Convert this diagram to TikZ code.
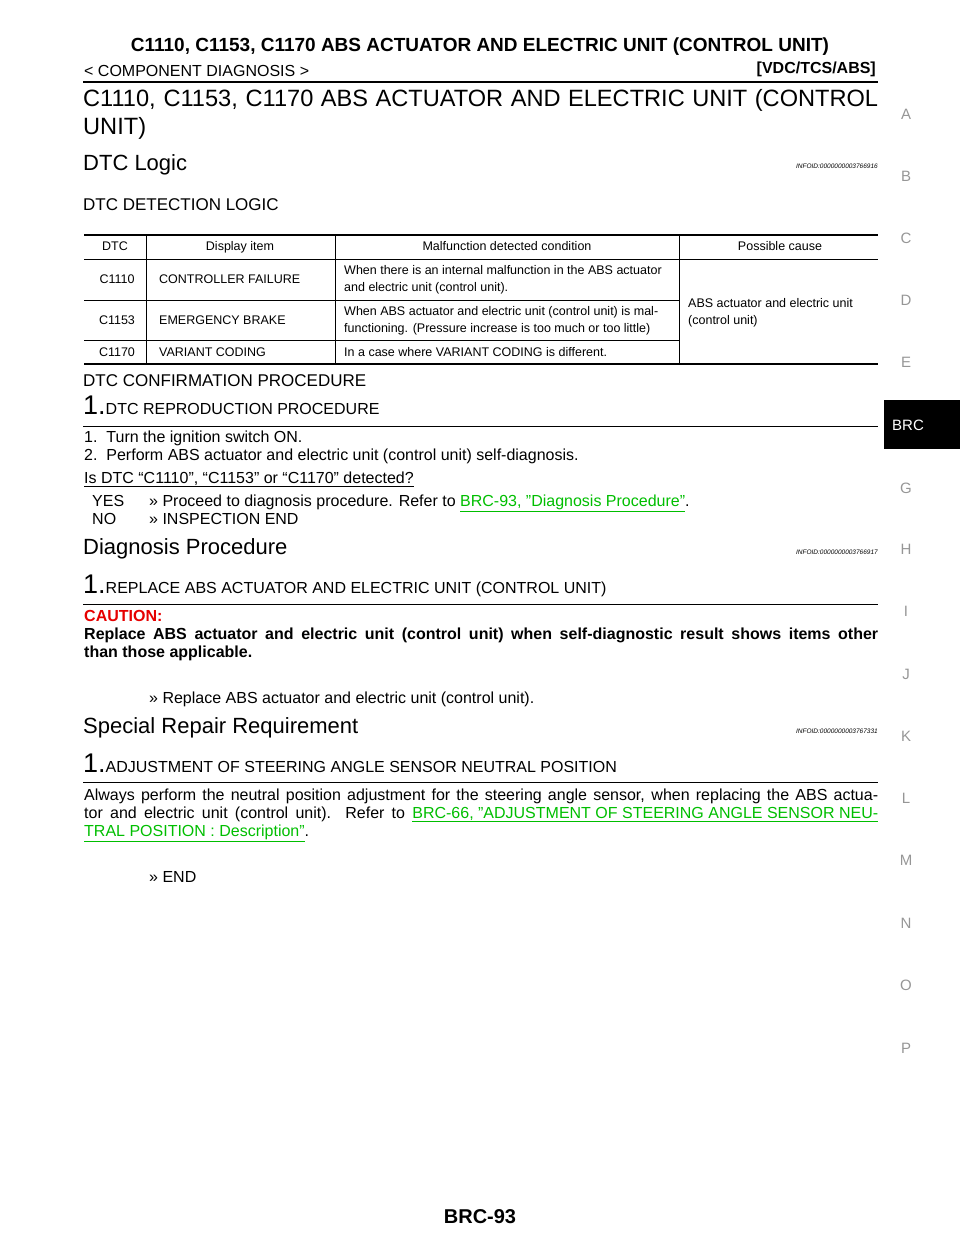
\documentclass[tikz,border=0pt]{standalone}
\usepackage{fontspec}
\setmainfont{Liberation Sans}[Ligatures=ResetAll]
\usepackage{tikz}
\definecolor{linkgreen}{RGB}{0,190,0}
\definecolor{cautionred}{RGB}{230,0,0}
\definecolor{sidegray}{RGB}{150,150,150}
\newcommand{\lnk}[1]{\textcolor{linkgreen}{\underline{#1}}}
\newcommand{\fullline}[1]{\makebox[794pt][s]{#1}}
\tikzset{
  txt/.style={anchor=base west,inner sep=0pt,font=\fontsize{16}{18}\selectfont},
  small/.style={anchor=base west,inner sep=0pt,font=\fontsize{12.5}{16}\selectfont},
  cell/.style={anchor=base,inner sep=0pt,font=\fontsize{12.5}{16}\selectfont},
  sect/.style={anchor=base west,inner sep=0pt,font=\fontsize{22}{24}\selectfont},
  step1/.style={anchor=base west,inner sep=0pt,font=\fontsize{16}{18}\selectfont},
  infoid/.style={anchor=base east,inner sep=0pt,font=\fontsize{6.5}{8}\selectfont\itshape},
  side/.style={anchor=base,inner sep=0pt,text=sidegray,font=\fontsize{15}{16}\selectfont},
  rule/.style={line width=1pt},
  thick rule/.style={line width=2.2pt}
}
\begin{document}
\begin{tikzpicture}[x=1pt,y=-1pt]
\useasboundingbox (0,0) rectangle (960,1242);

% page header
\node[anchor=base,inner sep=0pt,font=\fontsize{19}{20}\selectfont\bfseries] (hdr) at (480,51) {C1110, C1153, C1170 ABS ACTUATOR AND ELECTRIC UNIT (CONTROL UNIT)};
\node[txt] (comp) at (84,76) {< COMPONENT DIAGNOSIS >};
\node[anchor=base east,inner sep=0pt,font=\fontsize{16}{18}\selectfont\bfseries] (sys) at (876,73) {[VDC/TCS/ABS]};
\draw[thick rule] (83,82) -- (878,82);

% title
\node[sect,font=\fontsize{23.6}{26}\selectfont] (title1) at (83,106) {\makebox[795pt][s]{C1110, C1153, C1170 ABS ACTUATOR AND ELECTRIC UNIT (CONTROL}};
\node[sect,font=\fontsize{23.6}{26}\selectfont] (title2) at (83,134) {UNIT)};

% DTC logic
\node[sect] (dtclogic) at (83,170) {DTC Logic};
\node[infoid] (id1) at (878,168) {INFOID:0000000003766916};
\node[txt,font=\fontsize{17}{18}\selectfont] (detlogic) at (83,210) {DTC DETECTION LOGIC};

% table
\draw[thick rule] (84,235) -- (878,235);
\draw[rule] (84,259) -- (878,259);
\draw[rule] (84,300) -- (679,300);
\draw[rule] (84,340) -- (679,340);
\draw[thick rule] (84,364) -- (878,364);
\foreach \cx in {146,335,679} \draw[line width=0.5pt] (\cx,235) -- (\cx,364);
\node[cell] (h1) at (115,250) {DTC};
\node[cell] (h2) at (240,250) {Display item};
\node[cell] (h3) at (507,250) {Malfunction detected condition};
\node[cell] (h4) at (780,250) {Possible cause};
\node[cell] (c11) at (117,283) {C1110};
\node[small] (c12) at (159,283) {CONTROLLER FAILURE};
\node[small] (c13a) at (344,274) {When there is an internal malfunction in the ABS actuator};
\node[small] (c13b) at (344,291) {and electric unit (control unit).};
\node[cell] (c21) at (117,324) {C1153};
\node[small] (c22) at (159,324) {EMERGENCY BRAKE};
\node[small] (c23a) at (344,315) {When ABS actuator and electric unit (control unit) is mal-};
\node[small] (c23b) at (344,332) {functioning. (Pressure increase is too much or too little)};
\node[cell] (c31) at (117,356) {C1170};
\node[small] (c32) at (159,356) {VARIANT CODING};
\node[small] (c33) at (344,356) {In a case where VARIANT CODING is different.};
\node[small] (cause1) at (688,307) {ABS actuator and electric unit};
\node[small] (cause2) at (688,324) {(control unit)};

% confirmation procedure
\node[txt,font=\fontsize{17}{18}\selectfont] (confirm) at (83,386) {DTC CONFIRMATION PROCEDURE};
\node[step1] (s1) at (83,414) {{\fontsize{27}{28}\selectfont 1.}DTC REPRODUCTION PROCEDURE};
\draw[rule] (83,426) -- (878,426);
\node[txt] (l1) at (84,442) {1.\ \ Turn the ignition switch ON.};
\node[txt] (l2) at (84,460) {2.\ \ Perform ABS actuator and electric unit (control unit) self-diagnosis.};
\node[txt] (q1) at (84,483) {\underline{Is DTC “C1110”, “C1153” or “C1170” detected?}};
\node[txt] (yes) at (92,506) {YES};
\node[txt] (yesa) at (149,506) {>> Proceed to diagnosis procedure. Refer to \lnk{BRC-93, "Diagnosis Procedure"}.};
\node[txt] (no) at (92,524) {NO};
\node[txt] (noa) at (149,524) {>> INSPECTION END};

% diagnosis procedure
\node[sect] (diag) at (83,554) {Diagnosis Procedure};
\node[infoid] (id2) at (878,554) {INFOID:0000000003766917};
\node[step1] (s2) at (83,593) {{\fontsize{27}{28}\selectfont 1.}REPLACE ABS ACTUATOR AND ELECTRIC UNIT (CONTROL UNIT)};
\draw[rule] (83,604) -- (878,604);
\node[txt,font=\fontsize{16}{18}\selectfont\bfseries,text=cautionred] (caution) at (84,621) {CAUTION:};
\node[txt,font=\fontsize{16}{18}\selectfont\bfseries] (cau1) at (84,639) {\fullline{Replace ABS actuator and electric unit (control unit) when self-diagnostic result shows items other}};
\node[txt,font=\fontsize{16}{18}\selectfont\bfseries] (cau2) at (84,657) {than those applicable.};
\node[txt] (rep) at (149,703) {>> Replace ABS actuator and electric unit (control unit).};

% special repair requirement
\node[sect] (special) at (83,733) {Special Repair Requirement};
\node[infoid] (id3) at (878,733) {INFOID:0000000003767331};
\node[step1] (s3) at (83,772) {{\fontsize{27}{28}\selectfont 1.}ADJUSTMENT OF STEERING ANGLE SENSOR NEUTRAL POSITION};
\draw[rule] (83,782) -- (878,782);
\node[txt] (adj1) at (84,800) {\fullline{Always perform the neutral position adjustment for the steering angle sensor, when replacing the ABS actua-}};
\node[txt] (adj2) at (84,818) {\fullline{tor and electric unit (control unit). Refer to \lnk{BRC-66, "ADJUSTMENT OF STEERING ANGLE SENSOR NEU-}}};
\node[txt] (adj3) at (84,836) {\lnk{TRAL POSITION : Description"}.};
\node[txt] (fin) at (149,882) {>> END};

% side index
\fill (884,400) rectangle (960,449);
\node[anchor=base west,inner sep=0pt,text=white,font=\fontsize{15}{16}\selectfont] (brc) at (892,430) {BRC};
\foreach \ltr/\yy in {A/119,B/181,C/243,D/305,E/367,G/493,H/554,I/616,J/679,K/741,L/803,M/865,N/928,O/990,P/1053}
  \node[side] (side\ltr) at (906,\yy) {\ltr};

% page number
\node[anchor=base,inner sep=0pt,font=\fontsize{20}{22}\selectfont\bfseries] (page) at (480,1223) {BRC-93};
\end{tikzpicture}
\end{document}
